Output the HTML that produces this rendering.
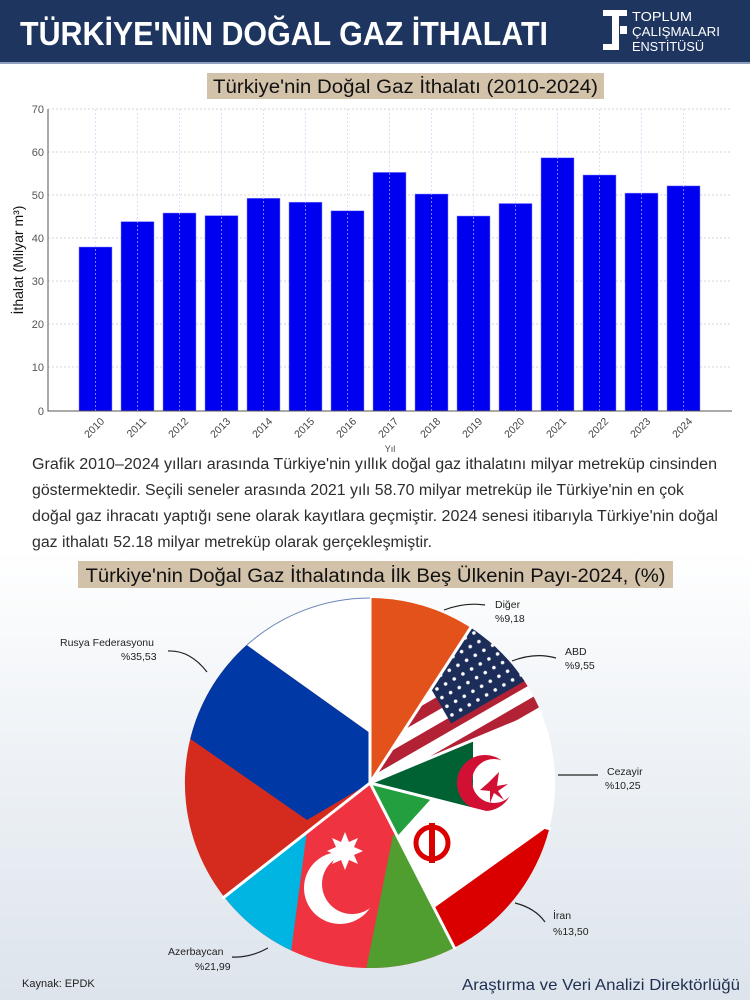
<!DOCTYPE html>
<html><head><meta charset="utf-8"><style>
html,body{margin:0;padding:0;background:#fff}
svg{display:block}
text{font-family:"Liberation Sans",sans-serif}
</style></head><body>
<svg width="750" height="1000" viewBox="0 0 750 1000" xmlns="http://www.w3.org/2000/svg">
<defs>
<linearGradient id="bg" x1="0" y1="0" x2="0" y2="1">
<stop offset="0" stop-color="#ffffff"/><stop offset="0.55" stop-color="#ffffff"/><stop offset="0.75" stop-color="#eef2f6"/><stop offset="1" stop-color="#dde4ec"/>
</linearGradient>
<clipPath id="cUSA"><path d="M370,783 L470.8,627.8 A185,185 0 0 1 540.8,711.9 Z"/></clipPath>
<clipPath id="cALG"><path d="M370,783 L540.8,711.9 A185,185 0 0 1 549.3,828.7 Z"/></clipPath>
<clipPath id="cIRN"><path d="M370,783 L549.3,828.7 A185,185 0 0 1 454.3,947.7 Z"/></clipPath>
<clipPath id="cAZE"><path d="M370,783 L454.3,947.7 A185,185 0 0 1 224.2,897 Z"/></clipPath>
<clipPath id="cRUS"><path d="M370,783 L224.2,897 A185,185 0 0 1 370,598 Z"/></clipPath>
<pattern id="stars" width="10" height="10" patternUnits="userSpaceOnUse"><rect width="10" height="10" fill="#1c2d5a"/><circle cx="5" cy="5" r="1.8" fill="#fff"/></pattern>
</defs>
<rect width="750" height="1000" fill="url(#bg)"/>
<!-- header -->
<rect x="0" y="0" width="750" height="62" fill="#1e3560"/>
<rect x="0" y="62" width="750" height="2" fill="#8ea0bd"/>
<text x="20" y="45" fill="#fff" font-size="33" font-weight="bold" textLength="528" lengthAdjust="spacingAndGlyphs">TÜRKİYE'NİN DOĞAL GAZ İTHALATI</text>
<rect x="603" y="10" width="24" height="6" fill="#fff"/><rect x="612" y="10" width="7" height="40" fill="#fff"/><rect x="603" y="44" width="9" height="6" fill="#fff"/>
<rect x="620" y="26" width="7" height="8" fill="#fff"/>
<text x="632" y="21" fill="#fff" font-size="13" textLength="60" lengthAdjust="spacingAndGlyphs">TOPLUM</text>
<text x="632" y="36" fill="#fff" font-size="13" textLength="88" lengthAdjust="spacingAndGlyphs">ÇALIŞMALARI</text>
<text x="632" y="51" fill="#fff" font-size="13" textLength="72" lengthAdjust="spacingAndGlyphs">ENSTİTÜSÜ</text>
<!-- chart title -->
<rect x="207" y="73" width="397" height="26" fill="#d3c2aa"/>
<text x="405.5" y="93" text-anchor="middle" font-size="19" fill="#111" textLength="385" lengthAdjust="spacingAndGlyphs">Türkiye'nin Doğal Gaz İthalatı (2010-2024)</text>
<!-- grid -->
<g stroke="#d6d6d6" stroke-dasharray="2,2" stroke-width="1">
<line x1="48" x2="732" y1="109" y2="109"/><line x1="48" x2="732" y1="152" y2="152"/><line x1="48" x2="732" y1="195" y2="195"/><line x1="48" x2="732" y1="238" y2="238"/><line x1="48" x2="732" y1="281" y2="281"/><line x1="48" x2="732" y1="324" y2="324"/><line x1="48" x2="732" y1="367" y2="367"/>
</g>
<g fill="#0000f0" stroke="#8a8aff" stroke-width="0.5">
<rect x="79" y="247" width="33" height="164"/>
<rect x="121" y="221.6" width="33" height="189.4"/>
<rect x="163" y="213" width="33" height="198"/>
<rect x="205" y="215.6" width="33" height="195.4"/>
<rect x="247" y="198.3" width="33" height="212.7"/>
<rect x="289" y="202.2" width="33" height="208.8"/>
<rect x="331" y="210.8" width="33" height="200.2"/>
<rect x="373" y="172.4" width="33" height="238.6"/>
<rect x="415" y="194" width="33" height="217"/>
<rect x="457" y="216" width="33" height="195"/>
<rect x="499" y="203.5" width="33" height="207.5"/>
<rect x="541" y="157.8" width="33" height="253.2"/>
<rect x="583" y="175" width="33" height="236"/>
<rect x="625" y="193.1" width="33" height="217.9"/>
<rect x="667" y="185.9" width="33" height="225.1"/>
</g>
<g stroke="#c8c8ff" stroke-dasharray="2,2" stroke-width="0.6">
<line x1="95.5" x2="95.5" y1="109" y2="411"/><line x1="137.5" x2="137.5" y1="109" y2="411"/><line x1="179.5" x2="179.5" y1="109" y2="411"/><line x1="221.5" x2="221.5" y1="109" y2="411"/><line x1="263.5" x2="263.5" y1="109" y2="411"/><line x1="305.5" x2="305.5" y1="109" y2="411"/><line x1="347.5" x2="347.5" y1="109" y2="411"/><line x1="389.5" x2="389.5" y1="109" y2="411"/><line x1="431.5" x2="431.5" y1="109" y2="411"/><line x1="473.5" x2="473.5" y1="109" y2="411"/><line x1="515.5" x2="515.5" y1="109" y2="411"/><line x1="557.5" x2="557.5" y1="109" y2="411"/><line x1="599.5" x2="599.5" y1="109" y2="411"/><line x1="641.5" x2="641.5" y1="109" y2="411"/><line x1="683.5" x2="683.5" y1="109" y2="411"/>
</g>
<path d="M48,109 L48,411 L732,411" fill="none" stroke="#555" stroke-width="1"/>
<g font-size="11" fill="#555" text-anchor="end">
<text x="44" y="113">70</text><text x="44" y="156">60</text><text x="44" y="199">50</text><text x="44" y="242">40</text><text x="44" y="285">30</text><text x="44" y="328">20</text><text x="44" y="371">10</text><text x="44" y="415">0</text>
</g>
<g font-size="10.5" fill="#444" text-anchor="end">
<text transform="translate(105,422) rotate(-45)">2010</text><text transform="translate(147,422) rotate(-45)">2011</text><text transform="translate(189,422) rotate(-45)">2012</text><text transform="translate(231,422) rotate(-45)">2013</text><text transform="translate(273,422) rotate(-45)">2014</text><text transform="translate(315,422) rotate(-45)">2015</text><text transform="translate(357,422) rotate(-45)">2016</text><text transform="translate(399,422) rotate(-45)">2017</text><text transform="translate(441,422) rotate(-45)">2018</text><text transform="translate(483,422) rotate(-45)">2019</text><text transform="translate(525,422) rotate(-45)">2020</text><text transform="translate(567,422) rotate(-45)">2021</text><text transform="translate(609,422) rotate(-45)">2022</text><text transform="translate(651,422) rotate(-45)">2023</text><text transform="translate(693,422) rotate(-45)">2024</text>
</g>
<text x="390" y="452" font-size="9" fill="#444" text-anchor="middle">Yıl</text>
<text transform="translate(23,260) rotate(-90)" font-size="14" fill="#111" text-anchor="middle">İthalat (Milyar m³)</text>
<!-- paragraph -->
<g font-size="15.5" fill="#2d2d2d">
<text x="32" y="469" textLength="685" lengthAdjust="spacingAndGlyphs">Grafik 2010–2024 yılları arasında Türkiye'nin yıllık doğal gaz ithalatını milyar metreküp cinsinden</text>
<text x="32" y="495" textLength="652" lengthAdjust="spacingAndGlyphs">göstermektedir. Seçili seneler arasında 2021 yılı 58.70 milyar metreküp ile Türkiye'nin en çok</text>
<text x="32" y="521" textLength="686" lengthAdjust="spacingAndGlyphs">doğal gaz ihracatı yaptığı sene olarak kayıtlara geçmiştir. 2024 senesi itibarıyla Türkiye'nin doğal</text>
<text x="32" y="547" textLength="400" lengthAdjust="spacingAndGlyphs">gaz ithalatı 52.18 milyar metreküp olarak gerçekleşmiştir.</text>
</g>
<rect x="78" y="561" width="595" height="27" fill="#d3c2aa"/>
<text x="375.5" y="582" text-anchor="middle" font-size="19" fill="#111" textLength="580" lengthAdjust="spacingAndGlyphs">Türkiye'nin Doğal Gaz İthalatında İlk Beş Ülkenin Payı-2024, (%)</text>
<!-- pie -->
<path d="M370,783 L370,598 A185,185 0 0 1 470.8,627.8 Z" fill="#e4521b"/>
<g clip-path="url(#cUSA)">
<rect x="360" y="590" width="200" height="200" fill="#fff"/>
<g transform="rotate(-30 370 783)" fill="#b22234">
<rect x="360" y="694" width="260" height="12"/><rect x="360" y="718" width="260" height="12"/><rect x="360" y="742" width="260" height="12"/><rect x="360" y="766" width="260" height="12"/><rect x="360" y="790" width="260" height="12"/><rect x="360" y="670" width="260" height="12"/>
<rect x="470" y="690" width="100" height="82" fill="url(#stars)"/>
</g>
</g>
<g clip-path="url(#cALG)">
<rect x="360" y="690" width="200" height="150" fill="#fff"/>
<polygon points="360,690 473,690 473,840 360,840" fill="#006233"/>
<circle cx="485" cy="783" r="28" fill="#d21034"/><circle cx="494" cy="781" r="22" fill="#fff"/>
<clipPath id="gl"><rect x="360" y="690" width="113" height="150"/></clipPath>
<circle cx="494" cy="781" r="22" fill="#006233" clip-path="url(#gl)"/>
<polygon points="488,783 499,772 497,786 508,784 498,791 504,800 494,793 490,803 490,791 480,790" fill="#d21034"/>
</g>
<g clip-path="url(#cIRN)">
<rect x="360" y="770" width="200" height="190" fill="#fff"/>
<polygon points="360,770 445,765 430,800 392,842 360,860" fill="#239f40"/>
<polygon points="420,918 560,818 620,900 470,1000" fill="#da0000"/>
<circle cx="432" cy="843" r="16" fill="none" stroke="#da0000" stroke-width="5"/><rect x="429" y="823" width="6" height="40" fill="#da0000"/>
</g>
<g clip-path="url(#cAZE)">
<rect x="200" y="780" width="270" height="200" fill="#ef3340"/>
<polygon points="200,880 309,815 290,960 200,960" fill="#00b5e2"/>
<polygon points="393,835 480,835 480,990 362,990" fill="#509e2f"/>
<circle cx="340" cy="888" r="36" fill="#fff"/><circle cx="352" cy="884" r="30" fill="#ef3340"/>
<polygon points="345,832 349,842 358,838 354,847 363,851 354,855 358,864 349,860 345,870 341,860 332,864 336,855 327,851 336,847 332,838 341,842" fill="#fff"/>
</g>
<g clip-path="url(#cRUS)">
<rect x="180" y="590" width="200" height="320" fill="#d52b1e"/>
<polygon points="150,576 370,733 370,783 307,820 120,690" fill="#0039a6"/>
<polygon points="150,576 370,733 370,560 150,560" fill="#fff"/>
</g>
<g fill="none" stroke="#fff" stroke-width="3">
<line x1="370" y1="783" x2="370" y2="596"/><line x1="370" y1="783" x2="471.8" y2="626"/><line x1="370" y1="783" x2="542.7" y2="711"/><line x1="370" y1="783" x2="551" y2="829"/><line x1="370" y1="783" x2="455" y2="949"/><line x1="370" y1="783" x2="222.6" y2="898.3"/>
</g>
<path d="M370,598 A185,185 0 0 0 247,645" fill="none" stroke="#6a86b8" stroke-width="1"/>
<!-- labels -->
<g fill="none" stroke="#222" stroke-width="1.2">
<path d="M444,610 Q465,602 485,605"/><path d="M512,661 Q535,652 556,658"/><path d="M558,775 L598,775"/><path d="M207,672 Q190,650 168,651"/><path d="M515,903 Q535,908 545,922"/><path d="M268,948 Q250,958 232,957"/>
</g>
<g font-size="10.5" fill="#222">
<text x="495" y="608">Diğer</text><text x="495" y="622">%9,18</text>
<text x="565" y="655">ABD</text><text x="565" y="669">%9,55</text>
<text x="607" y="775">Cezayir</text><text x="605" y="789">%10,25</text>
<text x="60" y="646">Rusya Federasyonu</text><text x="121" y="660">%35,53</text>
<text x="553" y="919">İran</text><text x="553" y="935">%13,50</text>
<text x="168" y="955">Azerbaycan</text><text x="195" y="970">%21,99</text>
<text x="22" y="987" font-size="11">Kaynak: EPDK</text>
</g>
<text x="740" y="990" text-anchor="end" font-size="16" fill="#1e2f50" textLength="278" lengthAdjust="spacingAndGlyphs">Araştırma ve Veri Analizi Direktörlüğü</text>
</svg>
</body></html>
